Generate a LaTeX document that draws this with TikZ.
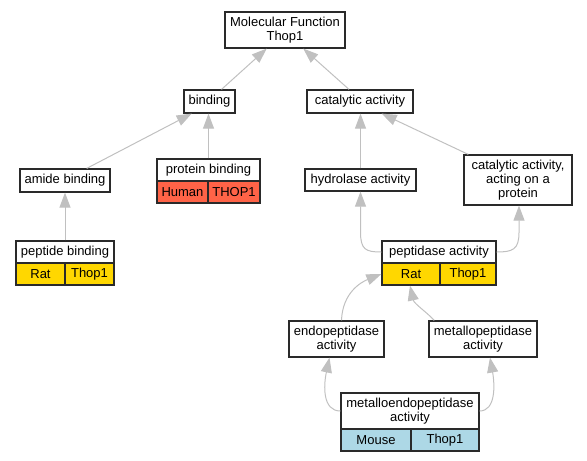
\documentclass[tikz,border=0pt]{standalone}
\usepackage{fontspec}
\setmainfont{Liberation Sans}
\usetikzlibrary{arrows.meta,calc}
\definecolor{edgegray}{HTML}{C0C0C0}
\definecolor{tomatoc}{HTML}{FF6347}
\definecolor{goldc}{HTML}{FFD700}
\definecolor{lblue}{HTML}{ADD8E6}
\definecolor{bord}{HTML}{2A2A2A}
\begin{document}
\begin{tikzpicture}[x=1pt,y=-1pt,
  box/.style={draw=bord, line width=1.2pt, fill=white, inner sep=0pt, align=center,
    font=\fontsize{13}{14}\selectfont},
  hum/.style={box, fill=tomatoc},
  rat/.style={box, fill=goldc},
  mouse/.style={box, fill=lblue},
  edge/.style={draw=edgegray, line width=1pt, -{Triangle[length=15pt,width=11pt]}}]
\useasboundingbox (0,0) rectangle (587,461);
% nodes
\node[box, minimum width=120, minimum height=36] (mf) at (285,30) {Molecular Function\\Thop1};
\node[box, minimum width=51, minimum height=23] (binding) at (209.5,101.5) {binding};
\node[box, minimum width=106, minimum height=23] (catalytic) at (360,101.5) {catalytic activity};
\node[box, minimum width=90, minimum height=23] (amide) at (65,180.5) {amide binding};
\node[box, minimum width=103, minimum height=22] (pbh) at (208.5,170) {protein binding};
\node[hum, minimum width=51, minimum height=22] (pbA) at (182.5,192) {Human};
\node[hum, minimum width=52, minimum height=22] (pbB) at (234,192) {THOP1};
\node[box, minimum width=111, minimum height=22] (hyd) at (360.5,180) {hydrolase activity};
\node[box, minimum width=108, minimum height=50] (catacting) at (518,180) {catalytic activity,\\acting on a\\protein};
\node[box, minimum width=98, minimum height=22] (ppbh) at (65,252) {peptide binding};
\node[rat, minimum width=49, minimum height=22] (ppbA) at (40.5,274) {Rat};
\node[rat, minimum width=49, minimum height=22] (ppbB) at (89.5,274) {Thop1};
\node[box, minimum width=114, minimum height=22] (peph) at (439,252) {peptidase activity};
\node[rat, minimum width=58, minimum height=22] (pepA) at (411,274) {Rat};
\node[rat, minimum width=56, minimum height=22] (pepB) at (468,274) {Thop1};
\node[box, minimum width=95, minimum height=36] (endo) at (336.5,339) {endopeptidase\\activity};
\node[box, minimum width=108, minimum height=36] (mp) at (483,339) {metallopeptidase\\activity};
\node[box, minimum width=138, minimum height=36] (meh) at (410,411) {metalloendopeptidase\\activity};
\node[mouse, minimum width=70, minimum height=22] (meA) at (376,440) {Mouse};
\node[mouse, minimum width=68, minimum height=22] (meB) at (445,440) {Thop1};
% edges
\draw[edge] ($(binding.north)+(12,0)$) -- ($(mf.south)+(-18.3,0)$);
\draw[edge] ($(catalytic.north)+(-11,0)$) -- ($(mf.south)+(18.3,0)$);
\draw[edge] ($(amide.north)+(21.7,0)$) -- ($(binding.south)+(-17.8,0)$);
\draw[edge] (pbh.north) -- (pbh.north |- binding.south);
\draw[edge] (ppbh.north) -- (amide.south);
\draw[edge] (hyd.north) -- (hyd.north |- catalytic.south);
\draw[edge] ($(catacting.north)+(-49.7,0)$) -- ($(catalytic.south)+(21.7,0)$);
\draw[edge] (peph.west) .. controls ($(peph.west)+(-16,0)$) and ($(hyd.south)+(0,58)$) .. ($(hyd.south)+(0,40)$) -- (hyd.south);
\draw[edge] (peph.east) .. controls ($(peph.east)+(16,0)$) and ($(catacting.south)+(1,44)$) .. ($(catacting.south)+(1,27)$) -- ($(catacting.south)+(1,0)$);
\draw[edge] ($(endo.north)+(5,0)$) .. controls ($(endo.north)+(6,-28)$) and ($(pepA.west)+(-20,8)$) .. (pepA.west);
\draw[edge] ($(mp.north)+(-48.7,0)$) .. controls ($(mp.north)+(-56,-8)$) and ($(pepA.south)+(3,18)$) .. ($(pepA.south)+(-1,0)$);
\draw[edge] (meh.west) .. controls ($(meh.west)+(-18,0)$) and ($(endo.south)+(-13,28)$) .. ($(endo.south)+(-7,0)$);
\draw[edge] (meh.east) .. controls ($(meh.east)+(16,0)$) and ($(mp.south)+(12,28)$) .. ($(mp.south)+(7,0)$);
\end{tikzpicture}
\end{document}
